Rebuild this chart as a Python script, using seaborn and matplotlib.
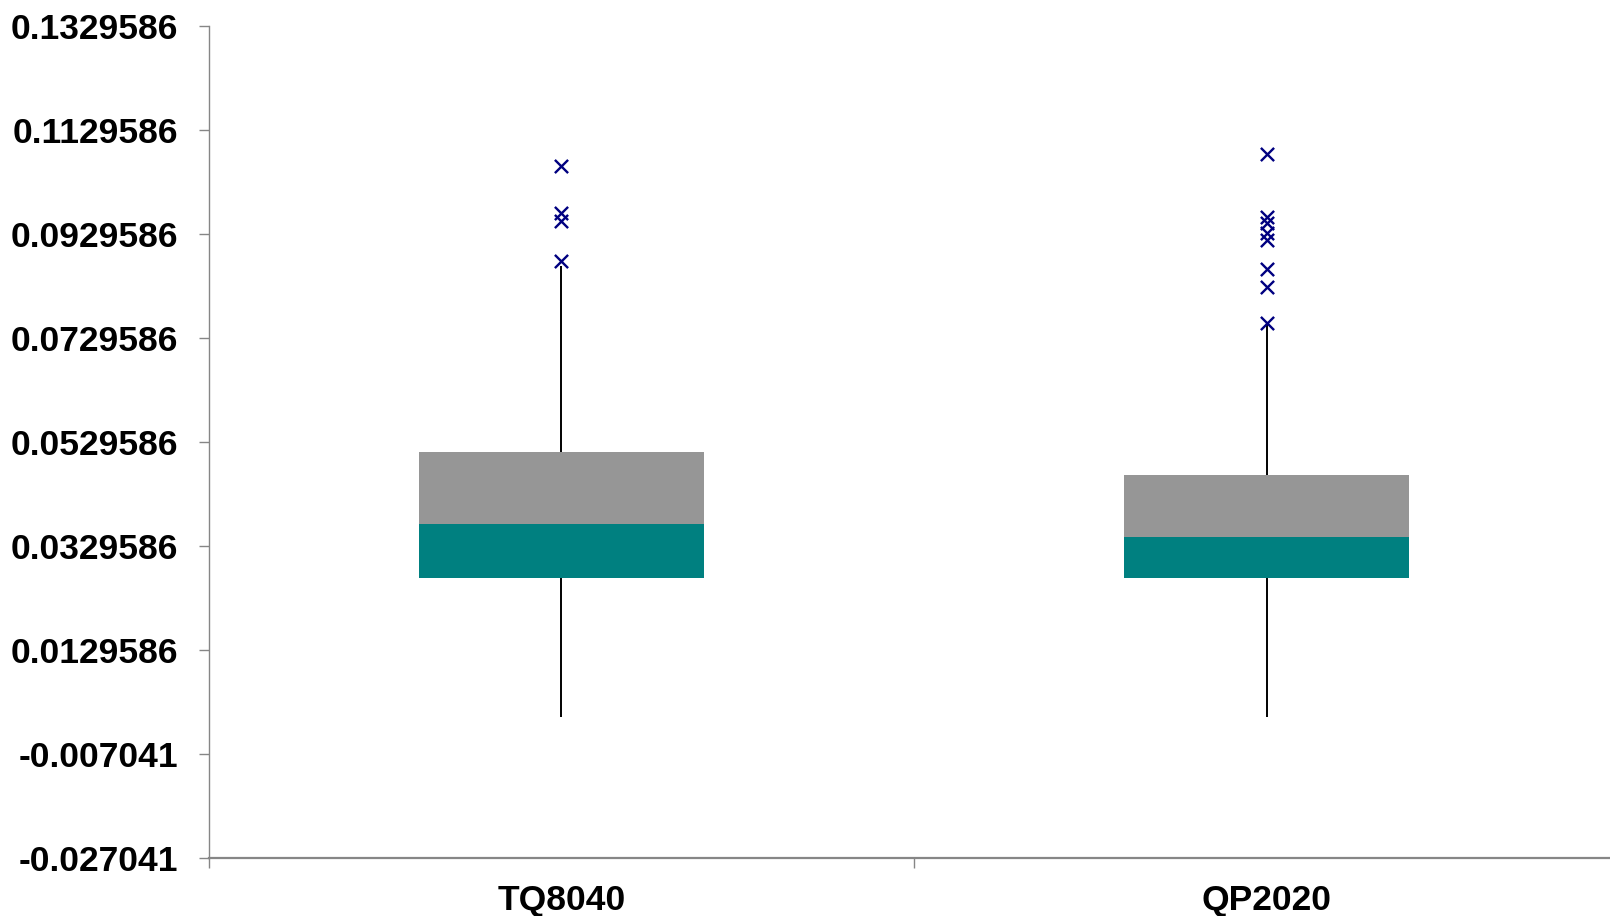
import numpy as np
import pandas as pd
import matplotlib
matplotlib.use("Agg")
import matplotlib.pyplot as plt
import seaborn as sns
from matplotlib.ticker import FixedLocator

# ---- data ----
categories = ["TQ8040", "QP2020"]
q1 = [0.02686, 0.02681]
median = [0.03719, 0.03475]
q3 = [0.05098, 0.04656]
whisker_low = [0.00002, 0.00002]
whisker_high = [0.0868, 0.0754]

outlier_groups = ["TQ8040", "TQ8040", "TQ8040", "TQ8040",
                  "QP2020", "QP2020", "QP2020", "QP2020", "QP2020",
                  "QP2020", "QP2020", "QP2020"]
outlier_values = [0.10604, 0.09706, 0.09552, 0.08783,
                  0.10834, 0.09623, 0.09508, 0.09315, 0.09181,
                  0.08617, 0.08271, 0.07579]

ytick_labels = ["0.1329586", "0.1129586", "0.0929586", "0.0729586",
                "0.0529586", "0.0329586", "0.0129586", "-0.007041", "-0.027041"]

# ---- style ----
sns.set_style("white")
plt.rcParams["font.family"] = ["Liberation Sans", "DejaVu Sans"]
plt.rcParams["font.weight"] = "bold"
plt.rcParams["text.color"] = "black"
plt.rcParams["xtick.color"] = "black"
plt.rcParams["ytick.color"] = "black"

grey_box = "#969696"
teal_box = "#008080"
axis_grey = "#868686"
marker_col = "#000080"

boxes = pd.DataFrame({"cat": categories, "q1": q1, "median": median, "q3": q3})
outl = pd.DataFrame({"cat": outlier_groups, "value": outlier_values})

fig = plt.figure(figsize=(16.1, 9.16), dpi=100)
ax = fig.add_axes([0.1298, 0.0633, 0.8758, 0.9083])

bw = 0.403
sns.barplot(data=boxes, x="cat", y="q3", order=categories, color=grey_box,
            width=bw, linewidth=0, saturation=1, ax=ax, zorder=2)
sns.barplot(data=boxes, x="cat", y="median", order=categories, color=teal_box,
            width=bw, linewidth=0, saturation=1, ax=ax, zorder=3)
sns.barplot(data=boxes, x="cat", y="q1", order=categories, color="white",
            width=bw, linewidth=0, saturation=1, ax=ax, zorder=4)

pos = np.arange(len(categories))
ax.vlines(pos, whisker_low, q1, color="black", lw=1.4, zorder=5)
ax.vlines(pos, q3, whisker_high, color="black", lw=1.4, zorder=5)

sns.stripplot(data=outl, x="cat", y="value", order=categories, jitter=False,
              marker="x", color=marker_col, size=9.5, linewidth=1.7, ax=ax, zorder=6)

yt = [float(s) for s in ytick_labels]
ax.set_ylim(min(yt), max(yt))
ax.set_xlim(-0.5, len(categories) - 0.5)
ax.yaxis.set_major_locator(FixedLocator(yt))
ax.set_yticklabels(ytick_labels)

ax.set_xticks(pos)
ax.set_xticklabels(categories)
ax.xaxis.set_minor_locator(FixedLocator(np.arange(len(categories) + 1) - 0.5))

ax.set_xlabel("")
ax.set_ylabel("")

for s in ["top", "right"]:
    ax.spines[s].set_visible(False)
ax.spines["left"].set_color(axis_grey)
ax.spines["left"].set_linewidth(1.0)
ax.spines["bottom"].set_color(axis_grey)
ax.spines["bottom"].set_linewidth(1.6)

ax.tick_params(axis="y", which="major", direction="out", length=7.2, width=1.0,
               color=axis_grey, labelcolor="black", labelsize=25.5, pad=15, left=True)
ax.tick_params(axis="x", which="major", length=0, labelsize=25.5, labelcolor="black", pad=19)
ax.tick_params(axis="x", which="minor", direction="out", length=7.2, width=1.0,
               color=axis_grey, bottom=True)
for lab in ax.get_xticklabels() + ax.get_yticklabels():
    lab.set_fontweight("bold")
    lab.set_color("black")

fig.savefig("out.png", dpi=100)
